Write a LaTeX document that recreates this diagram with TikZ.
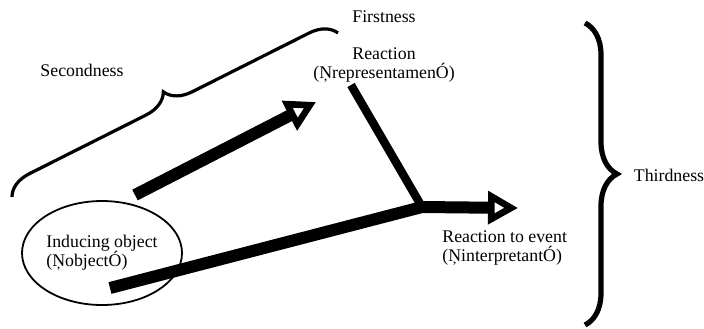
\documentclass[tikz,border=0pt]{standalone}
\usepackage{fontspec}
\setmainfont{Liberation Serif}
\usepackage{tikz}
\usetikzlibrary{arrows.meta, decorations.pathreplacing, shapes.geometric}

\begin{document}
\begin{tikzpicture}[x=0.5pt, y=-0.5pt,
        font=\fontsize{8.9}{9.6}\selectfont,
        lbl/.style={align=center, inner sep=0pt},
        shaft/.style={line width=6pt},
        opentip/.style={-{Triangle[open, length=15pt, width=16pt, line width=3.3pt]}},
        bracket/.style={decorate, decoration={brace, amplitude=#1}}]
    \useasboundingbox (0,0) rectangle (704,328);

    % Các ngoặc nhọn
    \draw[bracket=13pt, line width=1.6pt] (12,197) -- (338,33);
    \draw[bracket=16pt, line width=2.6pt] (585,23) -- (585,325);

    % Các nhãn
    \node[lbl] (first) at (384,17) {Firstness};
    \node[lbl] (second) at (82,70) {Secondness};
    \node[lbl] (third) at (669,175) {Thirdness};
    \node[lbl] (reaction) at (384,65) {Reaction\\(ŅrepresentamenÓ)};
    \node[lbl, align=left, anchor=west] (event) at (442,248) {Reaction to event\\(ŅinterpretantÓ)};
    \node[draw, ellipse, line width=0.9pt, align=left, inner sep=0pt,
          minimum width=80pt, minimum height=52pt] (object) at (102,253)
          {Inducing object\\(ŅobjectÓ)};

    % Các điểm đầu mút
    \coordinate (a1s) at (135,195);
    \coordinate (a1e) at (316,102);
    \coordinate (rs) at (351,85);
    \coordinate (jn) at (422,207);
    \coordinate (os) at (110,288);
    \coordinate (a2e) at (518,208);

    % Các mũi tên
    \draw[shaft, opentip] (a1s) -- (a1e);
    \draw[line width=4.2pt] (rs) -- (jn);
    \draw[shaft, opentip] (os) -- (jn) -- (a2e);
\end{tikzpicture}
\end{document}
